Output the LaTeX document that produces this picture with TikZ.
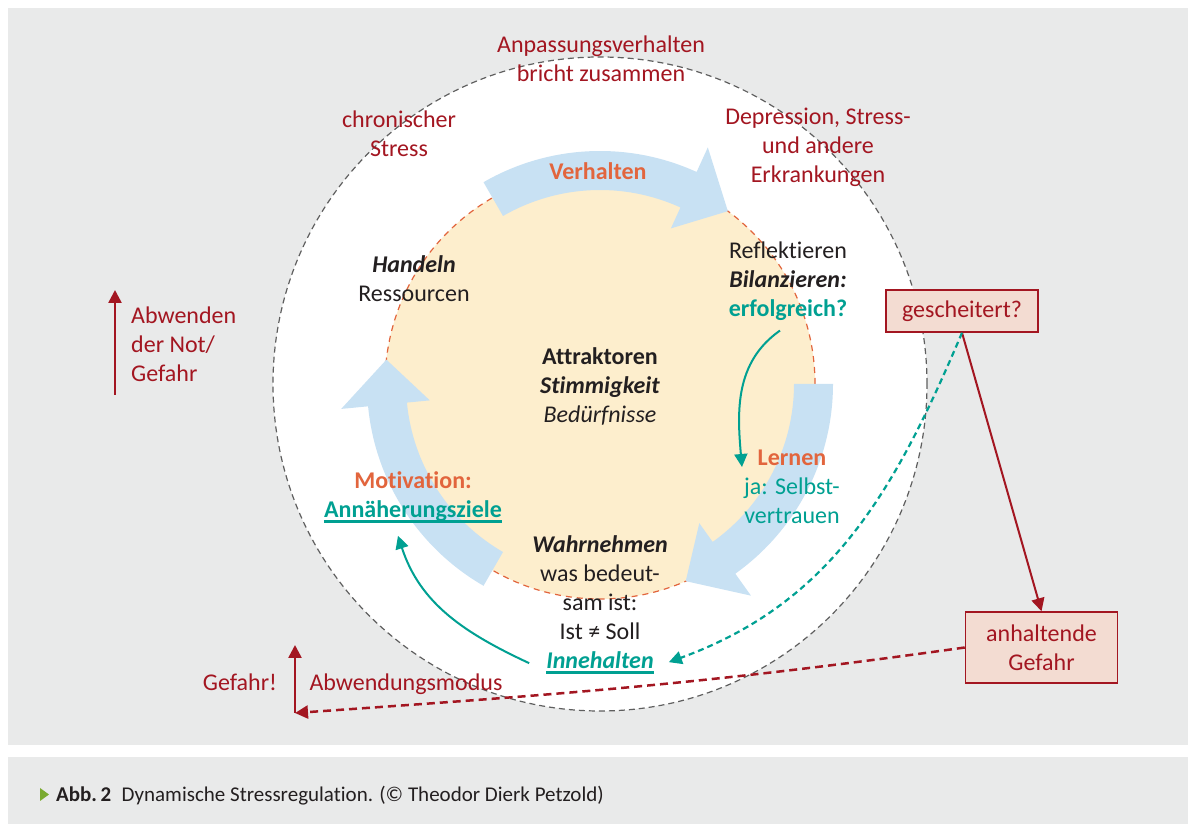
\documentclass[tikz,border=0pt]{standalone}
\usepackage{fontspec}
\setmainfont[Ligatures=NoCommon]{Carlito}
\usetikzlibrary{arrows.meta}

\definecolor{hgrau}{RGB}{233,234,234}
\definecolor{dunkelrot}{RGB}{163,22,33}
\definecolor{orangerot}{RGB}{226,101,61}
\definecolor{petrol}{RGB}{0,160,146}
\definecolor{hellblau}{RGB}{200,225,243}
\definecolor{pfirsich}{RGB}{253,238,205}
\definecolor{rosa}{RGB}{243,220,210}
\definecolor{schrift}{RGB}{35,31,32}
\definecolor{kreisgrau}{RGB}{95,95,95}
\definecolor{gruen}{RGB}{122,170,48}

\newcommand{\gross}{\fontsize{24}{29}\selectfont}

\tikzset{
  txt/.style={align=center, inner sep=0pt, font=\gross, text=schrift},
  rottxt/.style={txt, text=dunkelrot},
  kasten/.style={draw=dunkelrot, line width=1.5pt, fill=rosa, font=\gross,
    text=dunkelrot, align=center, minimum width=152pt, inner sep=0pt},
  pfeil/.style={fill=hellblau},
  rotpfeil/.style={draw=dunkelrot, line width=2.5pt, -{Triangle[width=13pt,length=13pt]}},
  tuerkis/.style={draw=petrol, line width=2pt, -{Triangle[width=13pt,length=13pt]}},
  strich/.style={dash pattern=on 6pt off 4pt}
}

\begin{document}
\begin{tikzpicture}[x=1pt,y=1pt]
\useasboundingbox (0,0) rectangle (1188,824);
% hintergrund
\fill[hgrau] (8,79) rectangle (1188,816);
\fill[hgrau] (8,0) rectangle (1188,67);

% kreise
\draw[kreisgrau, strich, line width=1.2pt, fill=white] (600,440) circle (327);
\draw[orangerot, dash pattern=on 6pt off 5pt, line width=1.2pt, fill=pfirsich] (600,440) circle (215);

% die drei grossen pfeile
\begin{scope}[shift={(600,440)}]
  \foreach \s in {120,0,-120}
    \fill[pfeil] (\s:233) arc[start angle=\s, end angle=\s-54.5, radius=233]
      -- ({\s-54.5}:260) -- ({\s-66.5}:215) -- ({\s-54.5}:171) -- ({\s-54.5}:194)
      arc[start angle=\s-54.5, end angle=\s, radius=194] -- cycle;
\end{scope}

% texte aussen
\node[rottxt] (anpassung) at (601,765) {Anpassungsverhalten\\bricht zusammen};
\node[rottxt] (chronisch) at (399,690) {chronischer\\Stress};
\node[rottxt] (depression) at (818,677) {Depression, Stress-\\und andere\\Erkrankungen};
\node[rottxt, align=left, anchor=west] (abwenden) at (131,480) {Abwenden\\der Not/\\Gefahr};
\node[rottxt, anchor=base] (gefahr) at (240,133.5) {Gefahr!};
\node[rottxt, anchor=base] (modus) at (406,133.5) {Abwendungsmodus};

% texte im kreis
\node[txt, text=orangerot, font=\gross\bfseries, anchor=base] (verhalten) at (598,644.5) {Verhalten};
\node[txt] (handeln) at (414,545) {\textbf{\textit{Handeln}}\\Ressourcen};
\node[txt] (bilanz) at (788,543) {Reflektieren\\\textbf{\textit{Bilanzieren:}}\\\textcolor{petrol}{\textbf{erfolgreich?}}};
\node[txt] (attraktor) at (600,438) {\textbf{Attraktoren}\\\textbf{\textit{Stimmigkeit}}\\\textit{Bedürfnisse}};
\node[txt, text=petrol] (lernen) at (792,337) {\textcolor{orangerot}{\textbf{Lernen}}\\ja: Selbst-\\vertrauen};
\node[txt, text=orangerot, font=\gross\bfseries, anchor=base] (motivation) at (413,335.5) {Motivation:};
\node[txt, text=petrol, font=\gross\bfseries, anchor=base] (ziele) at (413,306.5) {Annäherungsziele};
\node[txt] (wahrnehmen) at (600,236) {\textbf{\textit{Wahrnehmen}}\\was bedeut-\\sam ist:\\Ist ≠ Soll};
\node[txt, text=petrol, font=\gross\bfseries\itshape, anchor=base] (inne) at (600,155.5) {Innehalten};
\draw[petrol, line width=3pt] ([yshift=-4pt]ziele.base west) -- ([yshift=-4pt]ziele.base east);
\draw[petrol, line width=3pt] ([yshift=-4pt]inne.base west) -- ([yshift=-4pt]inne.base east);

% kaesten
\node[kasten, minimum height=42pt] (gescheitert) at (962,513) {gescheitert?};
\node[kasten, minimum height=71pt] (anhaltend) at (1041.5,176.5) {anhaltende\\Gefahr};

% rote pfeile
\coordinate (abw1) at (115,429);
\coordinate (abw2) at (115,534);
\coordinate (knick) at (295,111);
\coordinate (spitze) at (295,179);
\draw[rotpfeil] (abw1) -- (abw2);
\draw[rotpfeil] (knick) -- (spitze);
\draw[rotpfeil, line width=2pt] (gescheitert.south) -- (anhaltend.north);
\draw[rotpfeil, dash pattern=on 8pt off 5pt] (anhaltend.west) to[out=188,in=4] (knick);

% tuerkise pfeile
\draw[tuerkis] ([xshift=-8pt,yshift=-10pt]bilanz.south) to[out=215,in=95] ([xshift=-2pt,yshift=20pt]lernen.west);
\draw[tuerkis] ([xshift=-17pt,yshift=-3pt]inne.west) to[out=155,in=-72] ([xshift=-15pt,yshift=-14pt]ziele.south);
\draw[tuerkis, strich, line width=2.2pt] (gescheitert.south) to[out=247,in=20] ([xshift=15pt,yshift=-2pt]inne.east);

% bildunterschrift
\fill[gruen] (40,36) -- (49,29.5) -- (40,23) -- cycle;
\node[anchor=base west, inner sep=0pt, font=\fontsize{21}{25}\selectfont, text=schrift] (caption) at (56,22.5)
  {\textbf{Abb.\,2}\enspace Dynamische Stressregulation. (© Theodor Dierk Petzold)};
\end{tikzpicture}
\end{document}
